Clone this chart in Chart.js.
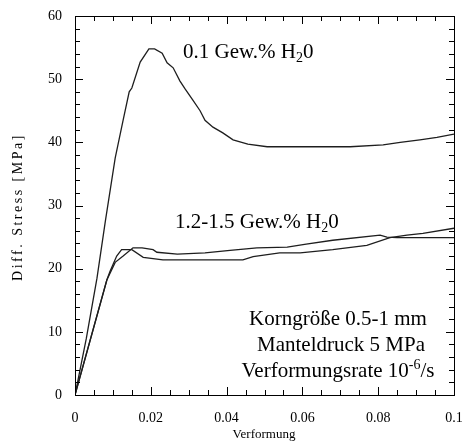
<!DOCTYPE html>
<html>
<head>
<meta charset="utf-8">
<script src="https://cdn.jsdelivr.net/npm/chart.js@4.4.1/dist/chart.umd.min.js"></script>
<style>
  html, body { margin: 0; padding: 0; background: #fff; }
  #wrap { width: 463px; height: 444px; }
</style>
</head>
<body>
<div id="wrap"><canvas id="stress-chart"></canvas></div>
<script>
// strain / stress readings, 0.1 Gew.% H2O
const strainDry = [0, 0.003, 0.0058, 0.008, 0.0106, 0.0127, 0.0143, 0.015, 0.0172, 0.0195, 0.021, 0.023, 0.0243, 0.0259, 0.0277, 0.029, 0.0311, 0.033, 0.0343, 0.0364, 0.039, 0.0417, 0.0456, 0.0507, 0.0726, 0.0813, 0.0858, 0.091, 0.0955, 0.1];
const stressDry = [0, 9, 18.5, 27.5, 37.5, 43.5, 48, 48.6, 52.7, 54.8, 54.8, 54.1, 52.6, 51.8, 49.7, 48.5, 46.7, 45, 43.5, 42.4, 41.5, 40.4, 39.7, 39.3, 39.3, 39.6, 40.0, 40.4, 40.8, 41.3];

// 1.2-1.5 Gew.% H2O, sample A
const strainWetA = [0, 0.0084, 0.0092, 0.011, 0.0123, 0.015, 0.018, 0.0232, 0.0443, 0.047, 0.054, 0.0594, 0.068, 0.077, 0.0831, 0.0876, 0.0918, 0.1];
const stressWetA = [0, 18.2, 19.5, 22, 23, 23, 21.8, 21.4, 21.4, 21.9, 22.5, 22.5, 23, 23.7, 24.9, 25.3, 25.6, 26.4];

// 1.2-1.5 Gew.% H2O, sample B
const strainWetB = [0, 0.0084, 0.0106, 0.0127, 0.0153, 0.0177, 0.0206, 0.0216, 0.027, 0.0343, 0.0409, 0.048, 0.056, 0.061, 0.068, 0.0805, 0.0823, 0.085, 0.1];
const stressWetB = [0, 18.2, 21, 22, 23.3, 23.3, 23.0, 22.6, 22.3, 22.5, 22.9, 23.3, 23.4, 23.9, 24.5, 25.3, 25.0, 24.9, 24.9];

const xTicks = [0, 0.02, 0.04, 0.06, 0.08, 0.1];
const yTicks = [0, 10, 20, 30, 40, 50, 60];

function toPoints(xs, ys) {
    return xs.map((x, i) => ({ x: x, y: ys[i] }));
}

const lineStyle = {
    borderColor: '#1e1e1e',
    borderWidth: 1.3,
    pointRadius: 0,
    tension: 0,
    fill: false
};

const serif = '"Liberation Serif", "Times New Roman", serif';

// frame, inward ticks on all four sides and the text labels
const framePlugin = {
    id: 'frame',
    afterDatasetsDraw(chart) {
        const ctx = chart.ctx;
        const a = chart.chartArea;
        const xs = chart.scales.x;
        const ys = chart.scales.y;
        ctx.save();
        ctx.strokeStyle = '#000';
        ctx.lineWidth = 1;
        ctx.strokeRect(Math.round(a.left) + 0.5, Math.round(a.top) + 0.5,
            Math.round(a.right - a.left), Math.round(a.bottom - a.top));

        ctx.beginPath();
        for (let i = 0; i <= 20; i++) {
            const v = i * 0.005;
            const px = Math.round(xs.getPixelForValue(v)) + 0.5;
            const len = (i % 4 === 0) ? 8 : 5;
            ctx.moveTo(px, a.bottom); ctx.lineTo(px, a.bottom - len);
            ctx.moveTo(px, a.top); ctx.lineTo(px, a.top + len);
        }
        for (let i = 0; i <= 30; i++) {
            const v = i * 2;
            const py = Math.round(ys.getPixelForValue(v)) + 0.5;
            const len = (i % 5 === 0) ? 8 : 5;
            ctx.moveTo(a.left, py); ctx.lineTo(a.left + len, py);
            ctx.moveTo(a.right, py); ctx.lineTo(a.right - len, py);
        }
        ctx.stroke();

        ctx.fillStyle = '#000';
        ctx.textBaseline = 'alphabetic';
        ctx.textAlign = 'left';

        // "0.1 Gew.% H2O"
        drawSub(ctx, 183, 58, '0.1 Gew.% H', '2', '0');
        // "1.2-1.5 Gew.% H2O"
        drawSub(ctx, 175, 228, '1.2-1.5 Gew.% H', '2', '0');

        ctx.font = '21px ' + serif;
        ctx.textAlign = 'center';
        ctx.fillText('Korngröße 0.5-1 mm', 338, 325);
        ctx.fillText('Manteldruck 5 MPa', 341, 351);

        // Verformungsrate 10^-6/s
        ctx.textAlign = 'left';
        const p1 = 'Verformungsrate 10', p2 = '-6', p3 = '/s';
        ctx.font = '21px ' + serif;
        const w1 = ctx.measureText(p1).width;
        const w3 = ctx.measureText(p3).width;
        ctx.font = '14px ' + serif;
        const w2 = ctx.measureText(p2).width;
        let x0 = 338 - (w1 + w2 + w3) / 2;
        ctx.font = '21px ' + serif;
        ctx.fillText(p1, x0, 377);
        ctx.font = '14px ' + serif;
        ctx.fillText(p2, x0 + w1, 369);
        ctx.font = '21px ' + serif;
        ctx.fillText(p3, x0 + w1 + w2, 377);

        // axis titles
        ctx.font = '13px ' + serif;
        ctx.textAlign = 'center';
        ctx.fillText('Verformung', 264, 438);
        ctx.save();
        ctx.translate(22, 207);
        ctx.rotate(-Math.PI / 2);
        ctx.font = '14px ' + serif;
        ctx.letterSpacing = '2.5px';
        ctx.fillText('Diff. Stress [MPa]', 0, 0);
        ctx.restore();

        ctx.restore();
    }
};

function drawSub(ctx, x, y, main, sub, tail) {
    ctx.font = '21px ' + serif;
    ctx.fillText(main, x, y);
    let w = ctx.measureText(main).width;
    ctx.font = '14px ' + serif;
    ctx.fillText(sub, x + w, y + 4);
    w += ctx.measureText(sub).width;
    ctx.font = '21px ' + serif;
    ctx.fillText(tail, x + w, y);
}

const config = {
    type: 'line',
    data: {
        datasets: [
            Object.assign({ label: '0.1 Gew.% H2O', data: toPoints(strainDry, stressDry) }, lineStyle),
            Object.assign({ label: '1.2-1.5 Gew.% H2O (A)', data: toPoints(strainWetA, stressWetA) }, lineStyle),
            Object.assign({ label: '1.2-1.5 Gew.% H2O (B)', data: toPoints(strainWetB, stressWetB) }, lineStyle)
        ]
    },
    options: {
        responsive: true,
        maintainAspectRatio: false,
        animation: false,
        layout: { padding: { top: 16, right: 9, left: 0, bottom: 0 } },
        plugins: {
            legend: { display: false },
            tooltip: { enabled: false }
        },
        scales: {
            x: {
                type: 'linear',
                min: 0,
                max: 0.1,
                afterFit: s => { s.height = 49; s.paddingLeft = 0; s.paddingRight = 0; },
                afterBuildTicks: s => { s.ticks = xTicks.map(v => ({ value: v })); },
                grid: { display: false, drawTicks: false, tickLength: 0 },
                border: { display: false },
                ticks: {
                    padding: 15,
                    color: '#000',
                    font: { family: serif, size: 14 },
                    maxRotation: 0,
                    callback: v => String(Number(v.toFixed(2)))
                }
            },
            y: {
                type: 'linear',
                min: 0,
                max: 60,
                afterFit: s => { s.width = 75; s.paddingTop = 0; s.paddingBottom = 0; },
                afterBuildTicks: s => { s.ticks = yTicks.map(v => ({ value: v })); },
                grid: { display: false, drawTicks: false, tickLength: 0 },
                border: { display: false },
                ticks: {
                    padding: 13,
                    color: '#000',
                    font: { family: serif, size: 14 }
                }
            }
        }
    },
    plugins: [framePlugin]
};

var stressChart = new Chart(document.getElementById('stress-chart'), config);
</script>
</body>
</html>
